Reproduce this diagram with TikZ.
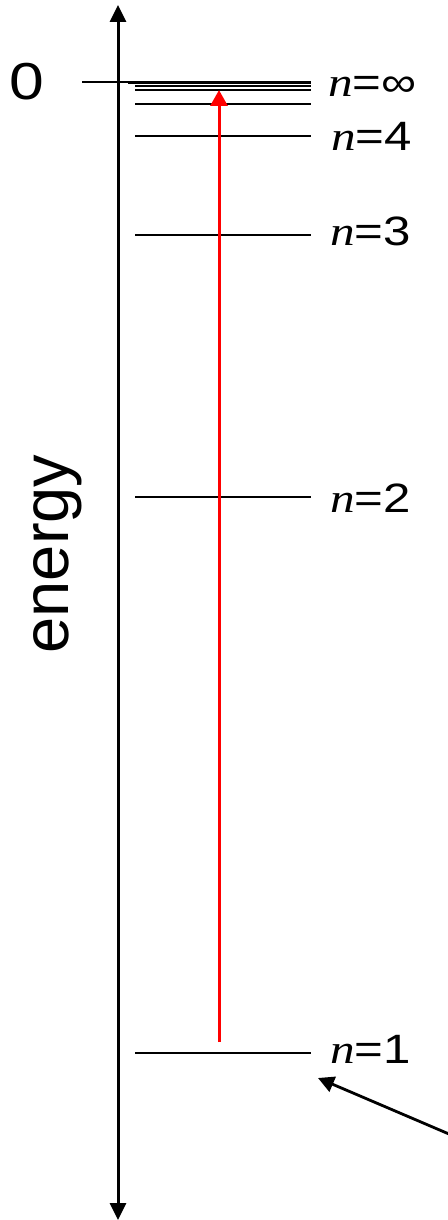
\documentclass[tikz,border=0pt]{standalone}
\usepackage{fontspec}
\setmainfont{Liberation Sans}
\newfontfamily\serifit{Liberation Serif}
\usetikzlibrary{arrows.meta}
\begin{document}
\begin{tikzpicture}[x=1pt,y=-1pt,
  levelline/.style={line width=2pt},
  lbl/.style={anchor=base west, inner sep=0pt, xscale=1.2, font=\fontsize{41}{41}\selectfont},
  axisline/.style={line width=3pt, {Triangle[width=16pt,length=17pt]}-{Triangle[width=16pt,length=17pt]}},
  transition/.style={red, line width=3pt, -{Triangle[width=17pt,length=16pt]}},
  pointer/.style={line width=2.8pt, -{Triangle[width=16pt,length=16pt]}}]
\useasboundingbox (0,0) rectangle (447,1220);
% energy axis
\coordinate (axtop) at (118,5);
\coordinate (axbot) at (118,1220);
\draw[axisline] (axbot) -- (axtop);
% zero
\node[anchor=base west, inner sep=0pt, xscale=1.2, font=\fontsize{52}{52}\selectfont] (zero) at (9,100) {0};
\coordinate (zs) at (82,82);
\coordinate (ze) at (135,82);
\draw[line width=1.4pt] (zs) -- (ze);
% levels
\coordinate (linf) at (128,82.7);  \coordinate (rinf) at (311,82.7);
\coordinate (l7) at (135,86);   \coordinate (r7) at (311,86);
\coordinate (l6) at (135,90.5); \coordinate (r6) at (311,90.5);
\coordinate (l5) at (135,104);  \coordinate (r5) at (311,104);
\coordinate (l4) at (135,136);  \coordinate (r4) at (311,136);
\coordinate (l3) at (135,235);  \coordinate (r3) at (311,235);
\coordinate (l2) at (135,497);  \coordinate (r2) at (311,497);
\coordinate (l1) at (135,1053); \coordinate (r1) at (311,1053);
\draw[line width=2.6pt] (linf) -- (rinf);
\foreach \k in {7,6,5,4,3,2,1} \draw[levelline] (l\k) -- (r\k);
% labels
\node[lbl] (ninf) at (328,97)  {{\serifit\itshape n}=∞};
\node[lbl] (n4) at (331,150) {{\serifit\itshape n}=4};
\node[lbl] (n3) at (330,245) {{\serifit\itshape n}=3};
\node[lbl] (n2) at (330,512) {{\serifit\itshape n}=2};
\node[lbl] (n1) at (330,1063) {{\serifit\itshape n}=1};
% axis label
\node[anchor=base, rotate=90, inner sep=0pt, font=\fontsize{65}{65}\selectfont] (energy) at (68,554) {energy};
% transition
\coordinate (rs) at (219,1042);
\coordinate (re) at (219,90);
\draw[transition] (rs) -- (re);
% pointer
\coordinate (ps) at (449,1134);
\coordinate (pe) at (318,1078);
\draw[pointer] (ps) -- (pe);
\end{tikzpicture}
\end{document}
